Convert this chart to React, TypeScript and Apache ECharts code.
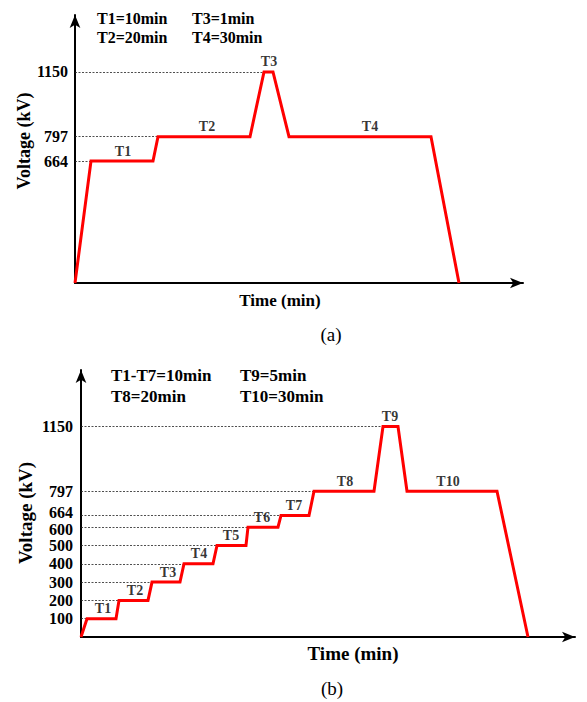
import React, { useEffect, useRef } from "react";
import * as echarts from "echarts";

// ---- Chart (a) data (schematic time units) ----
const aTimes = [0, 16, 78, 83, 175, 189, 198, 214, 356, 384];
const aVolts = [0, 664, 664, 797, 797, 1150, 1150, 797, 797, 0];
const aTicks = [664, 797, 1150];
const aSegNames = ["T1", "T2", "T3", "T4"];
const aSegTimes = [48, 132, 194, 295];
const aSegVolts = [664, 797, 1150, 797];

// ---- Chart (b) data ----
const bTimes = [0, 6, 35, 38, 67, 71, 99, 103, 132, 136, 165, 167, 197, 200, 228, 233, 293, 302, 317, 326, 416, 447];
const bVolts = [0, 100, 100, 200, 200, 300, 300, 400, 400, 500, 500, 600, 600, 664, 664, 797, 797, 1150, 1150, 797, 797, 0];
const bTicks = [100, 200, 300, 400, 500, 600, 664, 797, 1150];
const bSegNames = ["T1", "T2", "T3", "T4", "T5", "T6", "T7", "T8", "T9", "T10"];
const bSegTimes = [22, 54, 87, 118, 150, 181, 213, 264, 309, 367];
const bSegVolts = [100, 200, 300, 400, 500, 600, 664, 797, 1150, 797];

const FONT = "Liberation Serif";

function firstReach(times: number[], volts: number[], level: number) {
  const i = volts.indexOf(level);
  return times[i];
}

function buildSeries(
  idx: number,
  times: number[],
  volts: number[],
  ticks: number[],
  names: string[],
  segT: number[],
  segV: number[],
  labelSize: number
) {
  const lineData = times.map((t, i) => [t, volts[i]]);
  const marks = ticks.map((v) => [
    { coord: [0, v] },
    { coord: [firstReach(times, volts, v), v] },
  ]);
  return [
    {
      type: "line",
      xAxisIndex: idx,
      yAxisIndex: idx,
      data: lineData,
      symbol: "none",
      lineStyle: { color: "#ff0000", width: 3, join: "miter" },
      z: 5,
      markLine: {
        silent: true,
        symbol: "none",
        label: { show: false },
        lineStyle: { color: "#222", width: 0.8, type: [2, 1.5] },
        data: marks,
        z: 1,
      },
    },
    {
      type: "scatter",
      xAxisIndex: idx,
      yAxisIndex: idx,
      symbolSize: 0,
      data: segT.map((t, i) => ({ value: [t, segV[i]], name: names[i] })),
      label: {
        show: true,
        position: "top",
        distance: 3,
        formatter: (p: any) => p.name,
        fontFamily: FONT,
        fontWeight: "bold",
        fontSize: labelSize,
        color: "#000",
      },
      z: 6,
    },
  ];
}

function axisPair(idx: number, xMax: number, yMax: number, ticks: number[], fontSize: number, margin: number) {
  const axisLine = {
    show: true,
    symbol: ["none", "arrow"],
    symbolSize: [8, 13],
    lineStyle: { color: "#000", width: 2 },
  };
  const base = { fontFamily: FONT, fontWeight: "bold", fontSize, color: "#000", lineHeight: fontSize };
  return {
    x: {
      type: "value",
      gridIndex: idx,
      min: 0,
      max: xMax,
      axisLine,
      axisTick: { show: false },
      axisLabel: { show: false },
      splitLine: { show: false },
    },
    y: {
      type: "value",
      gridIndex: idx,
      min: 0,
      max: yMax,
      axisLine,
      axisTick: { show: false, customValues: ticks },
      axisLabel: {
        show: true,
        customValues: ticks,
        formatter: (v: number) =>
          v === 664 && idx === 1 ? `{up|${v}}` : v === 600 && idx === 1 ? `{dn|${v}}` : `${v}`,
        rich: {
          up: { ...base, padding: [0, 0, 6, 0] },
          dn: { ...base, padding: [4, 0, 0, 0] },
        },
        ...base,
        margin,
      },
      splitLine: { show: false },
    },
  };
}

export default function App() {
  const ref = useRef<HTMLDivElement>(null);
  useEffect(() => {
    if (!ref.current) return;
    const chart = echarts.init(ref.current, undefined, { renderer: "svg" });
    const A = axisPair(0, 448, 1460, aTicks, 16, 7);
    const B = axisPair(1, 494, 1459, bTicks, 16, 8);
    const txt = (text: string, x: number, y: number, size: number, bold = true, align = "left", rotation = 0) => ({
      type: "text",
      x,
      y,
      rotation,
      style: {
        text,
        fontFamily: FONT,
        fontSize: size,
        fontWeight: bold ? "bold" : "normal",
        fill: "#000",
        textAlign: align,
        textVerticalAlign: rotation ? "middle" : "top",
      },
    });
    const option: any = {
      animation: false,
      backgroundColor: "#fff",
      grid: [
        { left: 75, top: 15, width: 448, height: 268 },
        { left: 81, top: 370, width: 494, height: 267 },
      ],
      xAxis: [A.x, B.x],
      yAxis: [A.y, B.y],
      series: [
        ...buildSeries(0, aTimes, aVolts, aTicks, aSegNames, aSegTimes, aSegVolts, 14),
        ...buildSeries(1, bTimes, bVolts, bTicks, bSegNames, bSegTimes, bSegVolts, 14),
      ],
      graphic: [
        txt("T1=10min", 97, 10, 16),
        txt("T3=1min", 192, 10, 16),
        txt("T2=20min", 97, 29, 16),
        txt("T4=30min", 192, 29, 16),
        txt("T1-T7=10min", 111, 367, 17),
        txt("T9=5min", 240, 367, 17),
        txt("T8=20min", 111, 388, 17),
        txt("T10=30min", 240, 388, 17),
        txt("Time (min)", 280, 292, 17, true, "center"),
        txt("(a)", 331, 325, 19, false, "center"),
        txt("Time (min)", 353, 644, 19, true, "center"),
        txt("(b)", 332, 679, 19, false, "center"),
        txt("Voltage (kV)", 24, 141, 18, true, "center", Math.PI / 2),
        txt("Voltage (kV)", 25, 513, 19, true, "center", Math.PI / 2),
      ],
    };
    chart.setOption(option);
    return () => chart.dispose();
  }, []);
  return (
    <div
      ref={ref}
      style={{ position: "fixed", left: 0, top: 0, width: 587, height: 702, background: "#fff" }}
    />
  );
}
